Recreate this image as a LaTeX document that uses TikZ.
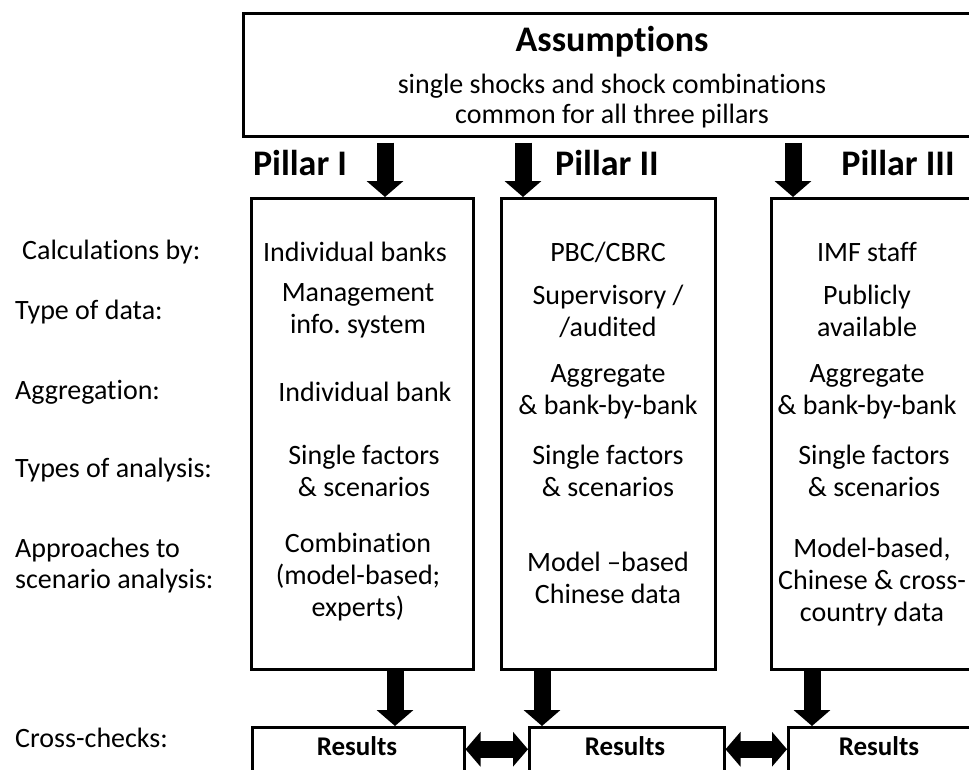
\documentclass[tikz,border=0pt]{standalone}
\usepackage{fontspec}
\setmainfont{Carlito}[Ligatures=NoCommon]
\frenchspacing
\usetikzlibrary{arrows.meta}

\begin{document}
\begin{tikzpicture}[x=1pt, y=-1pt,
  >={Triangle[length=16pt,width=36pt]},
  box/.style={draw, line width=2.5pt, anchor=north west, inner sep=0pt},
  txt/.style={font=\fontsize{28}{32}\selectfont, align=center, inner sep=0pt},
  lbl/.style={font=\fontsize{28}{31}\selectfont, align=left, anchor=west, inner sep=0pt},
  head/.style={font=\bfseries\fontsize{36}{40}\selectfont, anchor=base, inner sep=0pt},
  res/.style={font=\bfseries\fontsize{27}{30}\selectfont, anchor=base, inner sep=0pt},
  bigarrow/.style={->, line width=17pt}]
  % Page
  \clip (0,0) rectangle (969,769);

  % Assumptions
  \node[box, minimum width=740pt, minimum height=123pt] (assump) at (242,12) {};
  \node[head] (asstitle) at (612,51) {Assumptions};
  \node[txt, anchor=base] (ass1) at (612,93) {single shocks and shock combinations};
  \node[txt, anchor=base] (ass2) at (612,123) {common for all three pillars};

  % Pillar boxes
  \node[box, minimum width=222pt, minimum height=471pt] (pil1) at (250,197) {};
  \node[box, minimum width=214pt, minimum height=471pt] (pil2) at (500,197) {};
  \node[box, minimum width=218pt, minimum height=471pt] (pil3) at (770,197) {};
  \node[head] (head1) at (300,175) {Pillar I};
  \node[head] (head2) at (607,175) {Pillar II};
  \node[head] (head3) at (898,175) {Pillar III};

  % Row labels
  \node[lbl] (lcalc) at (22,252) {Calculations by:};
  \node[lbl] (ldata) at (15,312) {Type of data:};
  \node[lbl] (laggr) at (15,392) {Aggregation:};
  \node[lbl] (lanal) at (15,470) {Types of analysis:};
  \node[lbl] (lappr) at (15,566) {Approaches to\\scenario analysis:};
  \node[lbl] (lcross) at (15,738) {Cross-checks:};

  % Pillar I
  \node[txt] (calc1) at (355,252) {Individual banks};
  \node[txt] (data1) at (358,311) {Management\\info. system};
  \node[txt] (aggr1) at (365,392) {Individual bank};
  \node[txt] (anal1) at (364,471) {Single factors\\\& scenarios};
  \node[txt] (appr1) at (358,577) {Combination\\(model-based;\\experts)};

  % Pillar II
  \node[txt] (calc2) at (608,252) {PBC/CBRC};
  \node[txt] (data2) at (608,311) {Supervisory /\\/audited};
  \node[txt] (aggr2) at (608,392) {Aggregate\\\& bank-by-bank};
  \node[txt] (anal2) at (608,471) {Single factors\\\& scenarios};
  \node[txt] (appr2) at (608,578) {Model --based\\Chinese data};

  % Pillar III
  \node[txt] (calc3) at (867,252) {IMF staff};
  \node[txt] (data3) at (867,311) {Publicly\\available};
  \node[txt] (aggr3) at (867,392) {Aggregate\\\& bank-by-bank};
  \node[txt] (anal3) at (874,471) {Single factors\\\& scenarios};
  \node[txt] (appr3) at (872,582) {Model-based,\\Chinese \& cross-\\country data};

  % Results
  \node[box, minimum width=212pt, minimum height=44pt] (res1) at (251,726) {};
  \node[box, minimum width=195pt, minimum height=44pt] (res2) at (528,726) {};
  \node[box, minimum width=212pt, minimum height=44pt] (res3) at (787,726) {};
  \node[res] (rtxt1) at (357,755) {Results};
  \node[res] (rtxt2) at (625,755) {Results};
  \node[res] (rtxt3) at (879,755) {Results};

  % Arrows down
  \coordinate (a1) at (385,0);
  \coordinate (a2) at (523,0);
  \coordinate (a3) at (793,0);
  \coordinate (b1) at (395,0);
  \coordinate (b2) at (542,0);
  \coordinate (b3) at (812,0);
  \draw[bigarrow, shorten <=5pt] (assump.south -| a1) -- (pil1.north -| a1);
  \draw[bigarrow, shorten <=5pt] (assump.south -| a2) -- (pil2.north -| a2);
  \draw[bigarrow, shorten <=5pt] (assump.south -| a3) -- (pil3.north -| a3);
  \draw[bigarrow] (pil1.south -| b1) -- (res1.north -| b1);
  \draw[bigarrow] (pil2.south -| b2) -- (res2.north -| b2);
  \draw[bigarrow] (pil3.south -| b3) -- (res3.north -| b3);

  % Cross-checks
  \draw[<->, line width=17pt, >={Triangle[length=15pt,width=34pt]}] (res1.east) -- (res2.west);
  \draw[<->, line width=17pt, >={Triangle[length=15pt,width=34pt]}] (res2.east) -- (res3.west);
\end{tikzpicture}
\end{document}
